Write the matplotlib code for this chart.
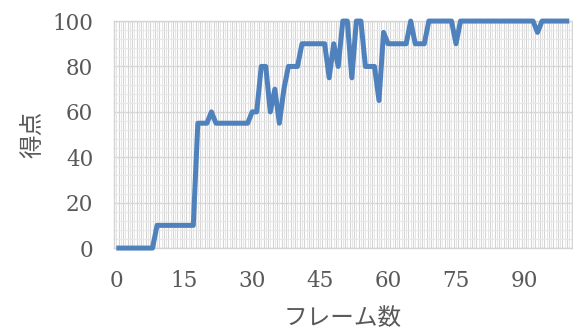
import matplotlib.pyplot as plt

# フォント設定（数字はセリフ体、日本語は Noto Sans CJK JP）
plt.rcParams['font.family'] = ['DejaVu Serif', 'Noto Sans CJK JP']

# データ: フレームごとの得点
frames = list(range(101))
scores = [
    0, 0, 0, 0, 0, 0, 0, 0, 0, 10,
    10, 10, 10, 10, 10, 10, 10, 10, 55, 55,
    55, 60, 55, 55, 55, 55, 55, 55, 55, 55,
    60, 60, 80, 80, 60, 70, 55, 70, 80, 80,
    80, 90, 90, 90, 90, 90, 90, 75, 90, 80,
    100, 100, 75, 100, 100, 80, 80, 80, 65, 95,
    90, 90, 90, 90, 90, 100, 90, 90, 90, 100,
    100, 100, 100, 100, 100, 90, 100, 100, 100, 100,
    100, 100, 100, 100, 100, 100, 100, 100, 100, 100,
    100, 100, 100, 95, 100, 100, 100, 100, 100, 100,
    100,
]
xtick_values = [0, 15, 30, 45, 60, 75, 90]
ytick_values = [0, 20, 40, 60, 80, 100]
x_label = 'フレーム数'
y_label = '得点'

text_color = '#595959'

fig = plt.figure(figsize=(5.73, 3.29), dpi=100)
ax = fig.add_axes([0.199, 0.246, 0.7984, 0.69])

ax.plot(frames, scores, color='#4f81bd', lw=3.6, solid_joinstyle='round',
        solid_capstyle='butt', clip_on=False, zorder=3)

ax.set_xlim(-0.5, len(frames) - 0.5)
ax.set_ylim(0, 100)

# 目盛り
ax.set_xticks(xtick_values)
ax.set_yticks(ytick_values)
ax.tick_params(length=0, labelsize=15.5, labelcolor=text_color)
ax.tick_params(axis='x', pad=16)
ax.tick_params(axis='y', pad=15)

# 目盛線（Excel 風の細かいグリッド）
ax.set_xticks([k + 0.5 for k in range(-1, len(frames))], minor=True)
ax.set_yticks(range(0, 101, 4), minor=True)
ax.tick_params(which='minor', length=0)
for k in range(len(frames)):
    ax.axvline(k, color='#e6e6e6', lw=0.7, zorder=1)
ax.grid(True, which='minor', axis='x', color='#d4d4d4', lw=0.8, zorder=1)
ax.grid(True, which='minor', axis='y', color='#e8e8e8', lw=0.8, zorder=1)
ax.grid(True, which='major', axis='y', color='#d4d4d4', lw=1.0, zorder=1)
ax.set_axisbelow(True)

for s in ax.spines.values():
    s.set_color('#d4d4d4')
    s.set_linewidth(1.0)

ax.set_xlabel(x_label, fontsize=17, color=text_color,
              family=['Noto Sans CJK JP'])
ax.xaxis.set_label_coords(0.5, -0.262)
ax.set_ylabel(y_label, fontsize=17, color=text_color,
              family=['Noto Sans CJK JP'])
ax.yaxis.set_label_coords(-0.153, 0.5)

fig.savefig('out.png', dpi=100)
